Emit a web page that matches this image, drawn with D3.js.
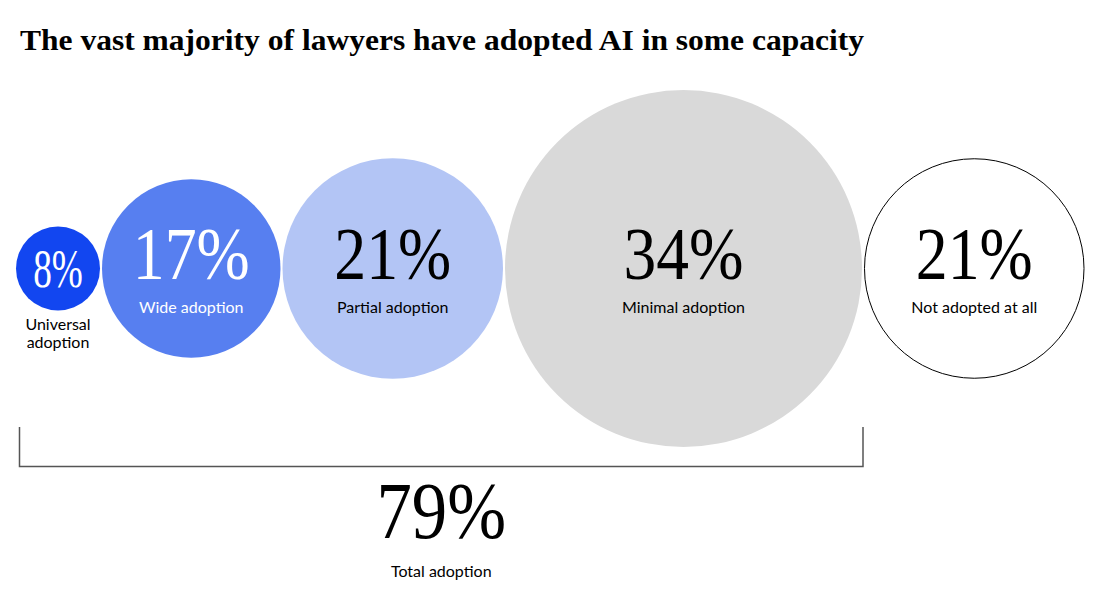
<!DOCTYPE html>
<html>
<head>
<meta charset="utf-8">
<script src="https://cdn.jsdelivr.net/npm/d3@7"></script>
<style>
  html, body { margin: 0; padding: 0; background: #fff; }
  svg { display: block; }
</style>
</head>
<body>
<svg id="chart" width="1106" height="604"></svg>
<script>
const title = "The vast majority of lawyers have adopted AI in some capacity";
const categories = ["Universal adoption", "Wide adoption", "Partial adoption", "Minimal adoption", "Not adopted at all"];
const values = [8, 17, 21, 34, 21];
const fills = ["#1246f0", "#577ff0", "#b3c5f5", "#d9d9d9", "#ffffff"];
const textColors = ["#ffffff", "#ffffff", "#000000", "#000000", "#000000"];
const totalValue = 79;
const totalLabel = "Total adoption";
const adoptedCount = 4;

const svg = d3.select("#chart");
const serif = "'Liberation Serif', 'Times New Roman', serif";
const sans = "Lato, 'Open Sans', sans-serif";

// Title, fitted to width
svg.append("text")
  .attr("x", 20).attr("y", 50)
  .attr("font-family", serif).attr("font-weight", 700)
  .attr("font-size", 30).attr("fill", "#000")
  .attr("textLength", 844).attr("lengthAdjust", "spacingAndGlyphs")
  .text(title);

const rScale = d3.scaleLinear().domain([0, 34]).range([0, 178.5]);
const gap = 2, x0 = 16, cy = 268.5;

let cursor = x0;
const nodes = values.map((v, i) => {
  const r = rScale(v);
  const cx = cursor + r;
  cursor = cx + r + gap;
  return { v, r, cx, cat: categories[i], fill: fills[i], tc: textColors[i], i };
});

// number text width: narrow % glyph, approx 0.5em per digit + 0.6em for %
function numWidth(str, size) {
  return (str.length - 1) * 0.5 * size + 0.58 * size;
}

const g = svg.append("g").selectAll("g").data(nodes).join("g");
g.append("circle")
  .attr("cx", d => d.cx).attr("cy", cy).attr("r", d => d.i === 4 ? d.r - 0.5 : d.r)
  .attr("fill", d => d.fill)
  .attr("stroke", d => d.i === 4 ? "#000" : "none")
  .attr("stroke-width", 1);

// Numbers
g.append("text")
  .attr("x", d => d.cx)
  .attr("y", d => d.i === 0 ? 287 : 279)
  .attr("text-anchor", "middle")
  .attr("font-family", serif)
  .attr("font-size", d => d.i === 0 ? 54 : 74)
  .attr("textLength", d => numWidth(d.v + "%", d.i === 0 ? 46 : (d.i === 3 ? 76 : 74)))
  .attr("lengthAdjust", "spacingAndGlyphs")
  .attr("fill", d => d.tc)
  .text(d => d.v + "%");

// Labels
g.filter(d => d.i !== 0).append("text")
  .attr("x", d => d.cx).attr("y", 313)
  .attr("text-anchor", "middle")
  .attr("font-family", sans).attr("font-size", 16)
  .attr("fill", d => d.tc)
  .text(d => d.cat);

const first = nodes[0];
const lab0 = svg.append("text")
  .attr("text-anchor", "middle")
  .attr("font-family", sans).attr("font-size", 16)
  .attr("fill", "#000");
first.cat.split(" ").forEach((w, k) => {
  lab0.append("tspan").attr("x", first.cx).attr("y", 330 + k * 18).text(w);
});

// Bracket
const left = nodes[0].cx - nodes[0].r + 3.5;
const lastAdopted = nodes[adoptedCount - 1];
const right = lastAdopted.cx + lastAdopted.r + 1;
const by0 = 427, by1 = 466.5;
svg.append("path")
  .attr("d", `M${left},${by0}V${by1}H${right}V${by0}`)
  .attr("fill", "none").attr("stroke", "#555").attr("stroke-width", 1.5);

const mid = (left + right) / 2;
svg.append("text")
  .attr("x", mid).attr("y", 538)
  .attr("text-anchor", "middle")
  .attr("font-family", serif).attr("font-size", 80)
  .attr("textLength", numWidth(totalValue + "%", 82))
  .attr("lengthAdjust", "spacingAndGlyphs")
  .attr("fill", "#000")
  .text(totalValue + "%");
svg.append("text")
  .attr("x", mid).attr("y", 577)
  .attr("text-anchor", "middle")
  .attr("font-family", sans).attr("font-size", 16)
  .attr("fill", "#000")
  .text(totalLabel);
</script>
</body>
</html>
